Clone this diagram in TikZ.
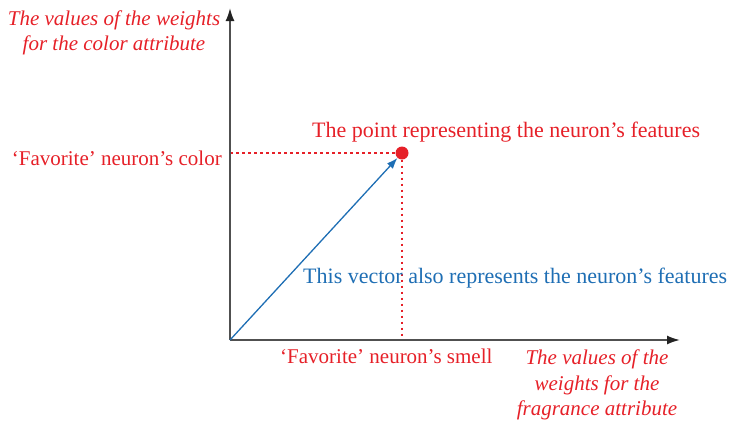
\documentclass[tikz,border=0pt]{standalone}
\usepackage{fontspec}
\setmainfont{Liberation Serif}
\usetikzlibrary{arrows.meta}
\definecolor{cred}{RGB}{230,32,40}
\definecolor{cblue}{RGB}{30,110,180}
\definecolor{caxis}{RGB}{80,80,80}
\definecolor{ctip}{RGB}{35,35,35}
\begin{document}
\begin{tikzpicture}[x=1pt,y=-1pt,
  axis/.style={draw=caxis,line width=1.8pt,-{Latex[length=13pt,width=9pt,color=ctip]}},
  guide/.style={draw=cred,line width=1.3pt,dash pattern=on 2.5pt off 3.5pt},
  lbl/.style={inner sep=0pt,font=\fontsize{22}{26}\selectfont},
  fav/.style={inner sep=0pt,font=\fontsize{21}{26}\selectfont},
  ital/.style={inner sep=0pt,font=\fontsize{21}{25.5}\selectfont\itshape,align=center}]
\useasboundingbox (0,0) rectangle (729,424);
\coordinate (O) at (230,340);
\coordinate (Ytop) at (230,8);
\coordinate (Xend) at (680,340);
\coordinate (Yc) at (230,153);
\coordinate (Xs) at (402,340);
\node[circle,fill=cred,inner sep=0pt,minimum size=13pt] (P) at (402,153) {};
\draw[guide] (Yc) -- (P);
\draw[guide] (P) -- (Xs);
\draw[axis] (O) -- (Ytop);
\draw[axis] (O) -- (Xend);
\draw[cblue,line width=1.3pt,-{Latex[length=11pt,width=8pt]}] (O) -- (P);
\node[ital,text=cred] (ty) at (114,33) {The values of the weights\\for the color attribute};
\node[fav,text=cred,anchor=east] (fc) at (222,158) {‘Favorite’ neuron’s color};
\node[lbl,text=cred,anchor=west] (pt) at (312,132) {The point representing the neuron’s features};
\node[lbl,text=cblue,anchor=west] (vec) at (303,278) {This vector also represents the neuron’s features};
\node[fav,text=cred,anchor=west] (fs) at (280,356) {‘Favorite’ neuron’s smell};
\node[ital,text=cred] (tx) at (597,385) {The values of the\\weights for the\\fragrance attribute};
\end{tikzpicture}
\end{document}
